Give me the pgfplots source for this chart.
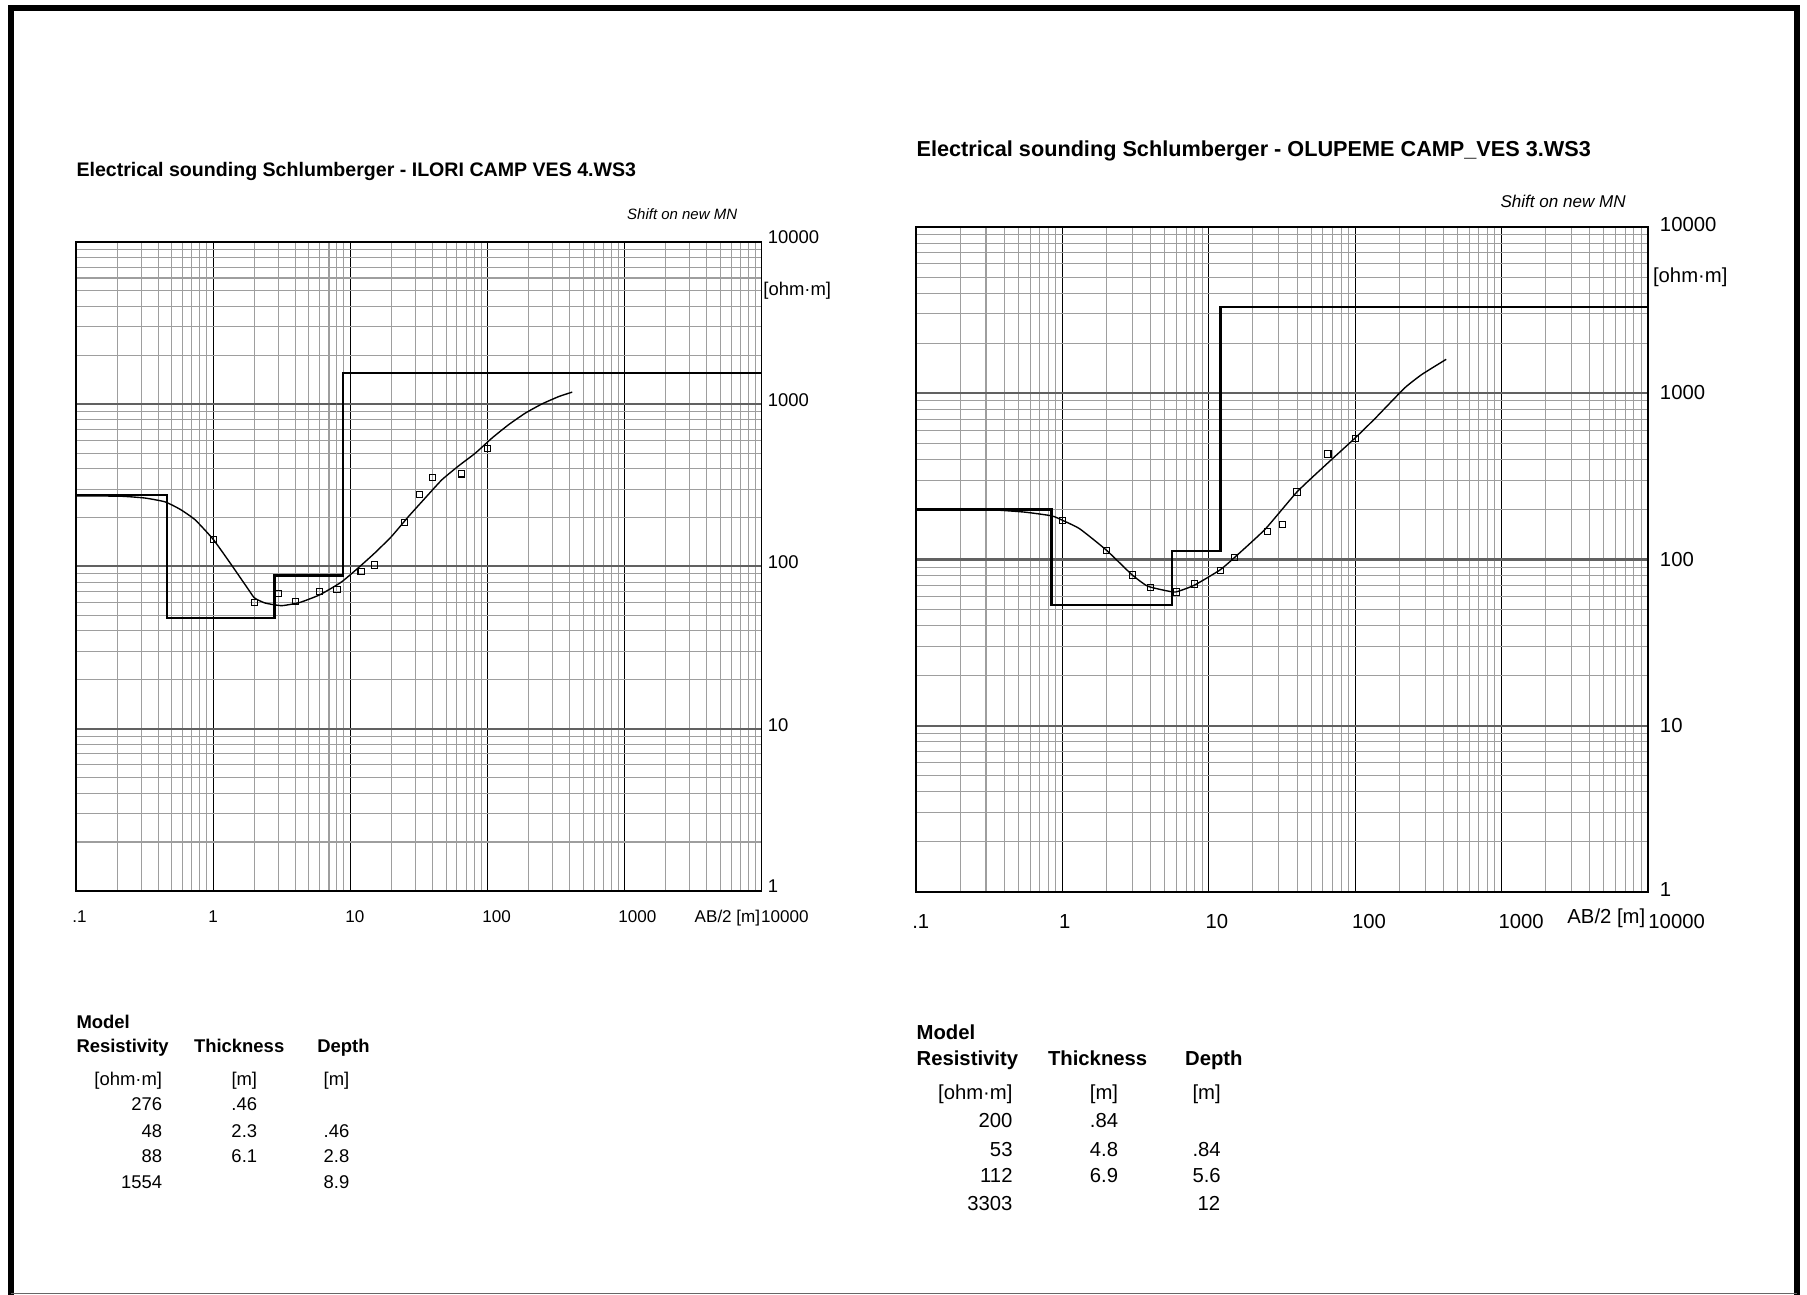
\documentclass[border=0pt]{standalone}
\usepackage{pgfplots}
\pgfplotsset{compat=1.18}
\usepackage{fontspec}
\setmainfont{Liberation Sans}

\tikzset{
 tA/.style={inner sep=0pt, font=\fontsize{8}{9}\selectfont, text height=5.7pt, text depth=0pt},
 tAb/.style={inner sep=0pt, font=\fontsize{8}{9}\selectfont\bfseries, text height=5.7pt, text depth=0pt},
 tAx/.style={inner sep=0pt, font=\fontsize{7.4}{9}\selectfont, text height=5.3pt, text depth=0pt},
 tB/.style={inner sep=0pt, font=\fontsize{8.8}{10}\selectfont, text height=6.3pt, text depth=0pt},
 tBb/.style={inner sep=0pt, font=\fontsize{8.8}{10}\selectfont\bfseries, text height=6.3pt, text depth=0pt},
}

\begin{document}
\begin{tikzpicture}
\useasboundingbox (0pt,0pt) rectangle (784pt,-561.5pt);
\draw[line width=2.6pt, line join=miter] (4.75pt,-563pt) -- (4.75pt,-3.45pt) -- (779.65pt,-3.45pt) -- (779.65pt,-563pt);
\draw[black!60, line width=0.6pt] (4.75pt,-561.2pt) -- (779.65pt,-561.2pt);

% ---------------- Left chart ----------------
\begin{axis}[at={(33pt,-105pt)}, anchor=north west, width=297.4pt, height=281.5pt,
  scale only axis, xmode=log, ymode=log,
  xmin=0.1, xmax=10000, ymin=1, ymax=10000,
  xtick={0.1,1,10,100,1000,10000}, ytick={1,10,100,1000,10000},
  minor xtick={0.2,0.3,0.4,0.5,0.6,0.7,0.8,0.9,2,3,4,5,6,7,8,9,20,30,40,50,60,70,80,90,200,300,400,500,600,700,800,900,2000,3000,4000,5000,6000,7000,8000,9000},
  minor ytick={2,3,4,5,6,7,8,9,20,30,40,50,60,70,80,90,200,300,400,500,600,700,800,900,2000,3000,4000,5000,6000,7000,8000,9000},
  xticklabels={}, yticklabels={},
  major tick length=0pt, minor tick length=0pt,
  grid=both,
  minor grid style={black!38, line width=0.45pt},
  major x grid style={black, line width=0.45pt},
  major y grid style={black!62, line width=0.9pt},
  axis line style={black, line width=0.7pt}]
\addplot[black, line width=1pt, no marks] coordinates {(0.1,276)(0.46,276)(0.46,48)(2.8,48)(2.8,88)(8.9,88)(8.9,1554)(10000,1554)};
\addplot[black, line width=0.6pt, no marks, smooth, tension=0.3] coordinates {(0.1,272)(0.209,271)(0.318,264)(0.446,250)(0.574,225)(0.738,194)(1.0,147)(1.33,105)(1.78,73.5)(2.0,64)(2.39,59.5)(3.16,57.3)(4.3,60)(6.03,67)(8.6,80)(11.4,97.7)(15.1,121)(20,153)(26.6,203)(35.2,264)(46.6,342)(61.8,417)(81.7,499)(108,618)(143,748)(190,883)(251,1005)(333,1116)(416,1187)};
\addplot[black, only marks, mark=square, mark size=1.35pt, mark options={line width=0.45pt, fill=none}] coordinates {(1,147)(2,60)(3,68)(4,61)(6,70)(8,72)(12,93)(15,102)(25,187)(32,277)(40,355)(65,372)(100,536)};
\end{axis}

\node[anchor=west, inner sep=0pt, font=\fontsize{8.5}{10}\selectfont\bfseries, text height=6.1pt, text depth=0pt] at (33pt,-73.5pt) {Electrical sounding Schlumberger - ILORI CAMP VES 4.WS3};
\node[anchor=east, inner sep=0pt, font=\fontsize{6.5}{8}\selectfont\itshape, text height=4.7pt, text depth=0pt] at (320pt,-93pt) {Shift on new MN};

\node[tA, anchor=west] at (333pt,-103pt) {10000};
\node[tA, anchor=west] at (331pt,-125.5pt) {[ohm·m]};
\node[tA, anchor=west] at (333pt,-173.5pt) {1000};
\node[tA, anchor=west] at (333pt,-244pt) {100};
\node[tA, anchor=west] at (333pt,-314.5pt) {10};
\node[tA, anchor=west] at (333pt,-384.5pt) {1};

\node[tAx] at (34.5pt,-397.5pt) {.1};
\node[tAx] at (92.5pt,-397.5pt) {1};
\node[tAx] at (154pt,-397.5pt) {10};
\node[tAx] at (215.5pt,-397.5pt) {100};
\node[tAx] at (276.5pt,-397.5pt) {1000};
\node[tAx, anchor=east] at (330pt,-397.5pt) {AB/2 [m]};
\node[tAx, anchor=west] at (330pt,-397.5pt) {10000};

\node[tAb, anchor=west] at (33pt,-443.5pt) {Model};
\node[tAb, anchor=west] at (33pt,-454pt) {Resistivity};
\node[tAb, anchor=west] at (84pt,-454pt) {Thickness};
\node[tAb, anchor=west] at (137.5pt,-454pt) {Depth};
\node[tA, anchor=east] at (70.5pt,-468pt) {[ohm·m]};
\node[tA, anchor=east] at (70.5pt,-479pt) {276};
\node[tA, anchor=east] at (70.5pt,-490.5pt) {48};
\node[tA, anchor=east] at (70.5pt,-501.5pt) {88};
\node[tA, anchor=east] at (70.5pt,-513pt) {1554};
\node[tA] at (106pt,-468pt) {[m]};
\node[tA] at (106pt,-479pt) {.46};
\node[tA] at (106pt,-490.5pt) {2.3};
\node[tA] at (106pt,-501.5pt) {6.1};
\node[tA] at (146pt,-468pt) {[m]};
\node[tA] at (146pt,-490.5pt) {.46};
\node[tA] at (146pt,-501.5pt) {2.8};
\node[tA] at (146pt,-513pt) {8.9};

% ---------------- Right chart ----------------
\begin{axis}[at={(397.5pt,-98.5pt)}, anchor=north west, width=317.5pt, height=288.5pt,
  scale only axis, xmode=log, ymode=log,
  xmin=0.1, xmax=10000, ymin=1, ymax=10000,
  xtick={0.1,1,10,100,1000,10000}, ytick={1,10,100,1000,10000},
  minor xtick={0.2,0.3,0.4,0.5,0.6,0.7,0.8,0.9,2,3,4,5,6,7,8,9,20,30,40,50,60,70,80,90,200,300,400,500,600,700,800,900,2000,3000,4000,5000,6000,7000,8000,9000},
  minor ytick={2,3,4,5,6,7,8,9,20,30,40,50,60,70,80,90,200,300,400,500,600,700,800,900,2000,3000,4000,5000,6000,7000,8000,9000},
  xticklabels={}, yticklabels={},
  major tick length=0pt, minor tick length=0pt,
  grid=both,
  minor grid style={black!38, line width=0.45pt},
  major x grid style={black, line width=0.45pt},
  major y grid style={black!62, line width=0.9pt},
  axis line style={black, line width=0.7pt}]
\addplot[black, line width=1pt, no marks] coordinates {(0.1,200)(0.84,200)(0.84,53)(5.6,53)(5.6,112)(12,112)(12,3303)(10000,3303)};
\addplot[black, line width=0.6pt, no marks, smooth, tension=0.3] coordinates {(0.1,200)(0.293,200)(0.545,193)(0.845,183)(1.0,172)(1.31,153)(1.99,114)(2.98,81)(3.79,69.3)(4.94,65.3)(5.94,63.8)(7.94,70)(11.9,86.5)(15,103)(24.2,152)(40,255)(63.7,375)(99.3,536)(135,698)(154,787)(219,1082)(286,1300)(418,1600)};
\addplot[black, only marks, mark=square, mark size=1.35pt, mark options={line width=0.45pt, fill=none}] coordinates {(1,172)(2,113)(3,80.7)(4,67.9)(6,63.8)(8,71.3)(12,85.9)(15,103)(25,147)(32,163)(40,255)(65,431)(100,536)};
\end{axis}

\node[anchor=west, inner sep=0pt, font=\fontsize{9.4}{11}\selectfont\bfseries, text height=6.7pt, text depth=0pt] at (397.5pt,-64.5pt) {Electrical sounding Schlumberger - OLUPEME CAMP\_VES 3.WS3};
\node[anchor=east, inner sep=0pt, font=\fontsize{7.4}{9}\selectfont\itshape, text height=5.3pt, text depth=0pt] at (705.5pt,-87.5pt) {Shift on new MN};

\node[tB, anchor=west] at (720pt,-97.5pt) {10000};
\node[tB, anchor=west] at (717pt,-119.5pt) {[ohm·m]};
\node[tB, anchor=west] at (720pt,-170pt) {1000};
\node[tB, anchor=west] at (720pt,-242.5pt) {100};
\node[tB, anchor=west] at (720pt,-314.5pt) {10};
\node[tB, anchor=west] at (720pt,-386pt) {1};

\node[tB] at (399.5pt,-399.5pt) {.1};
\node[tB] at (462pt,-399.5pt) {1};
\node[tB] at (528pt,-399.5pt) {10};
\node[tB] at (594pt,-399.5pt) {100};
\node[tB] at (660pt,-399.5pt) {1000};
\node[tB, anchor=east] at (714pt,-397.5pt) {AB/2 [m]};
\node[tB, anchor=west] at (715pt,-399.5pt) {10000};

\node[tBb, anchor=west] at (397.5pt,-448pt) {Model};
\node[tBb, anchor=west] at (397.5pt,-459pt) {Resistivity};
\node[tBb, anchor=west] at (454.5pt,-459pt) {Thickness};
\node[tBb, anchor=west] at (514pt,-459pt) {Depth};
\node[tB, anchor=east] at (439.5pt,-474pt) {[ohm·m]};
\node[tB, anchor=east] at (439.5pt,-486pt) {200};
\node[tB, anchor=east] at (439.5pt,-498.5pt) {53};
\node[tB, anchor=east] at (439.5pt,-510pt) {112};
\node[tB, anchor=east] at (439.5pt,-522pt) {3303};
\node[tB] at (479pt,-474pt) {[m]};
\node[tB] at (479pt,-486pt) {.84};
\node[tB] at (479pt,-498.5pt) {4.8};
\node[tB] at (479pt,-510pt) {6.9};
\node[tB] at (523.5pt,-474pt) {[m]};
\node[tB] at (523.5pt,-498.5pt) {.84};
\node[tB] at (523.5pt,-510pt) {5.6};
\node[tB] at (524.5pt,-522pt) {12};
\end{tikzpicture}
\end{document}
